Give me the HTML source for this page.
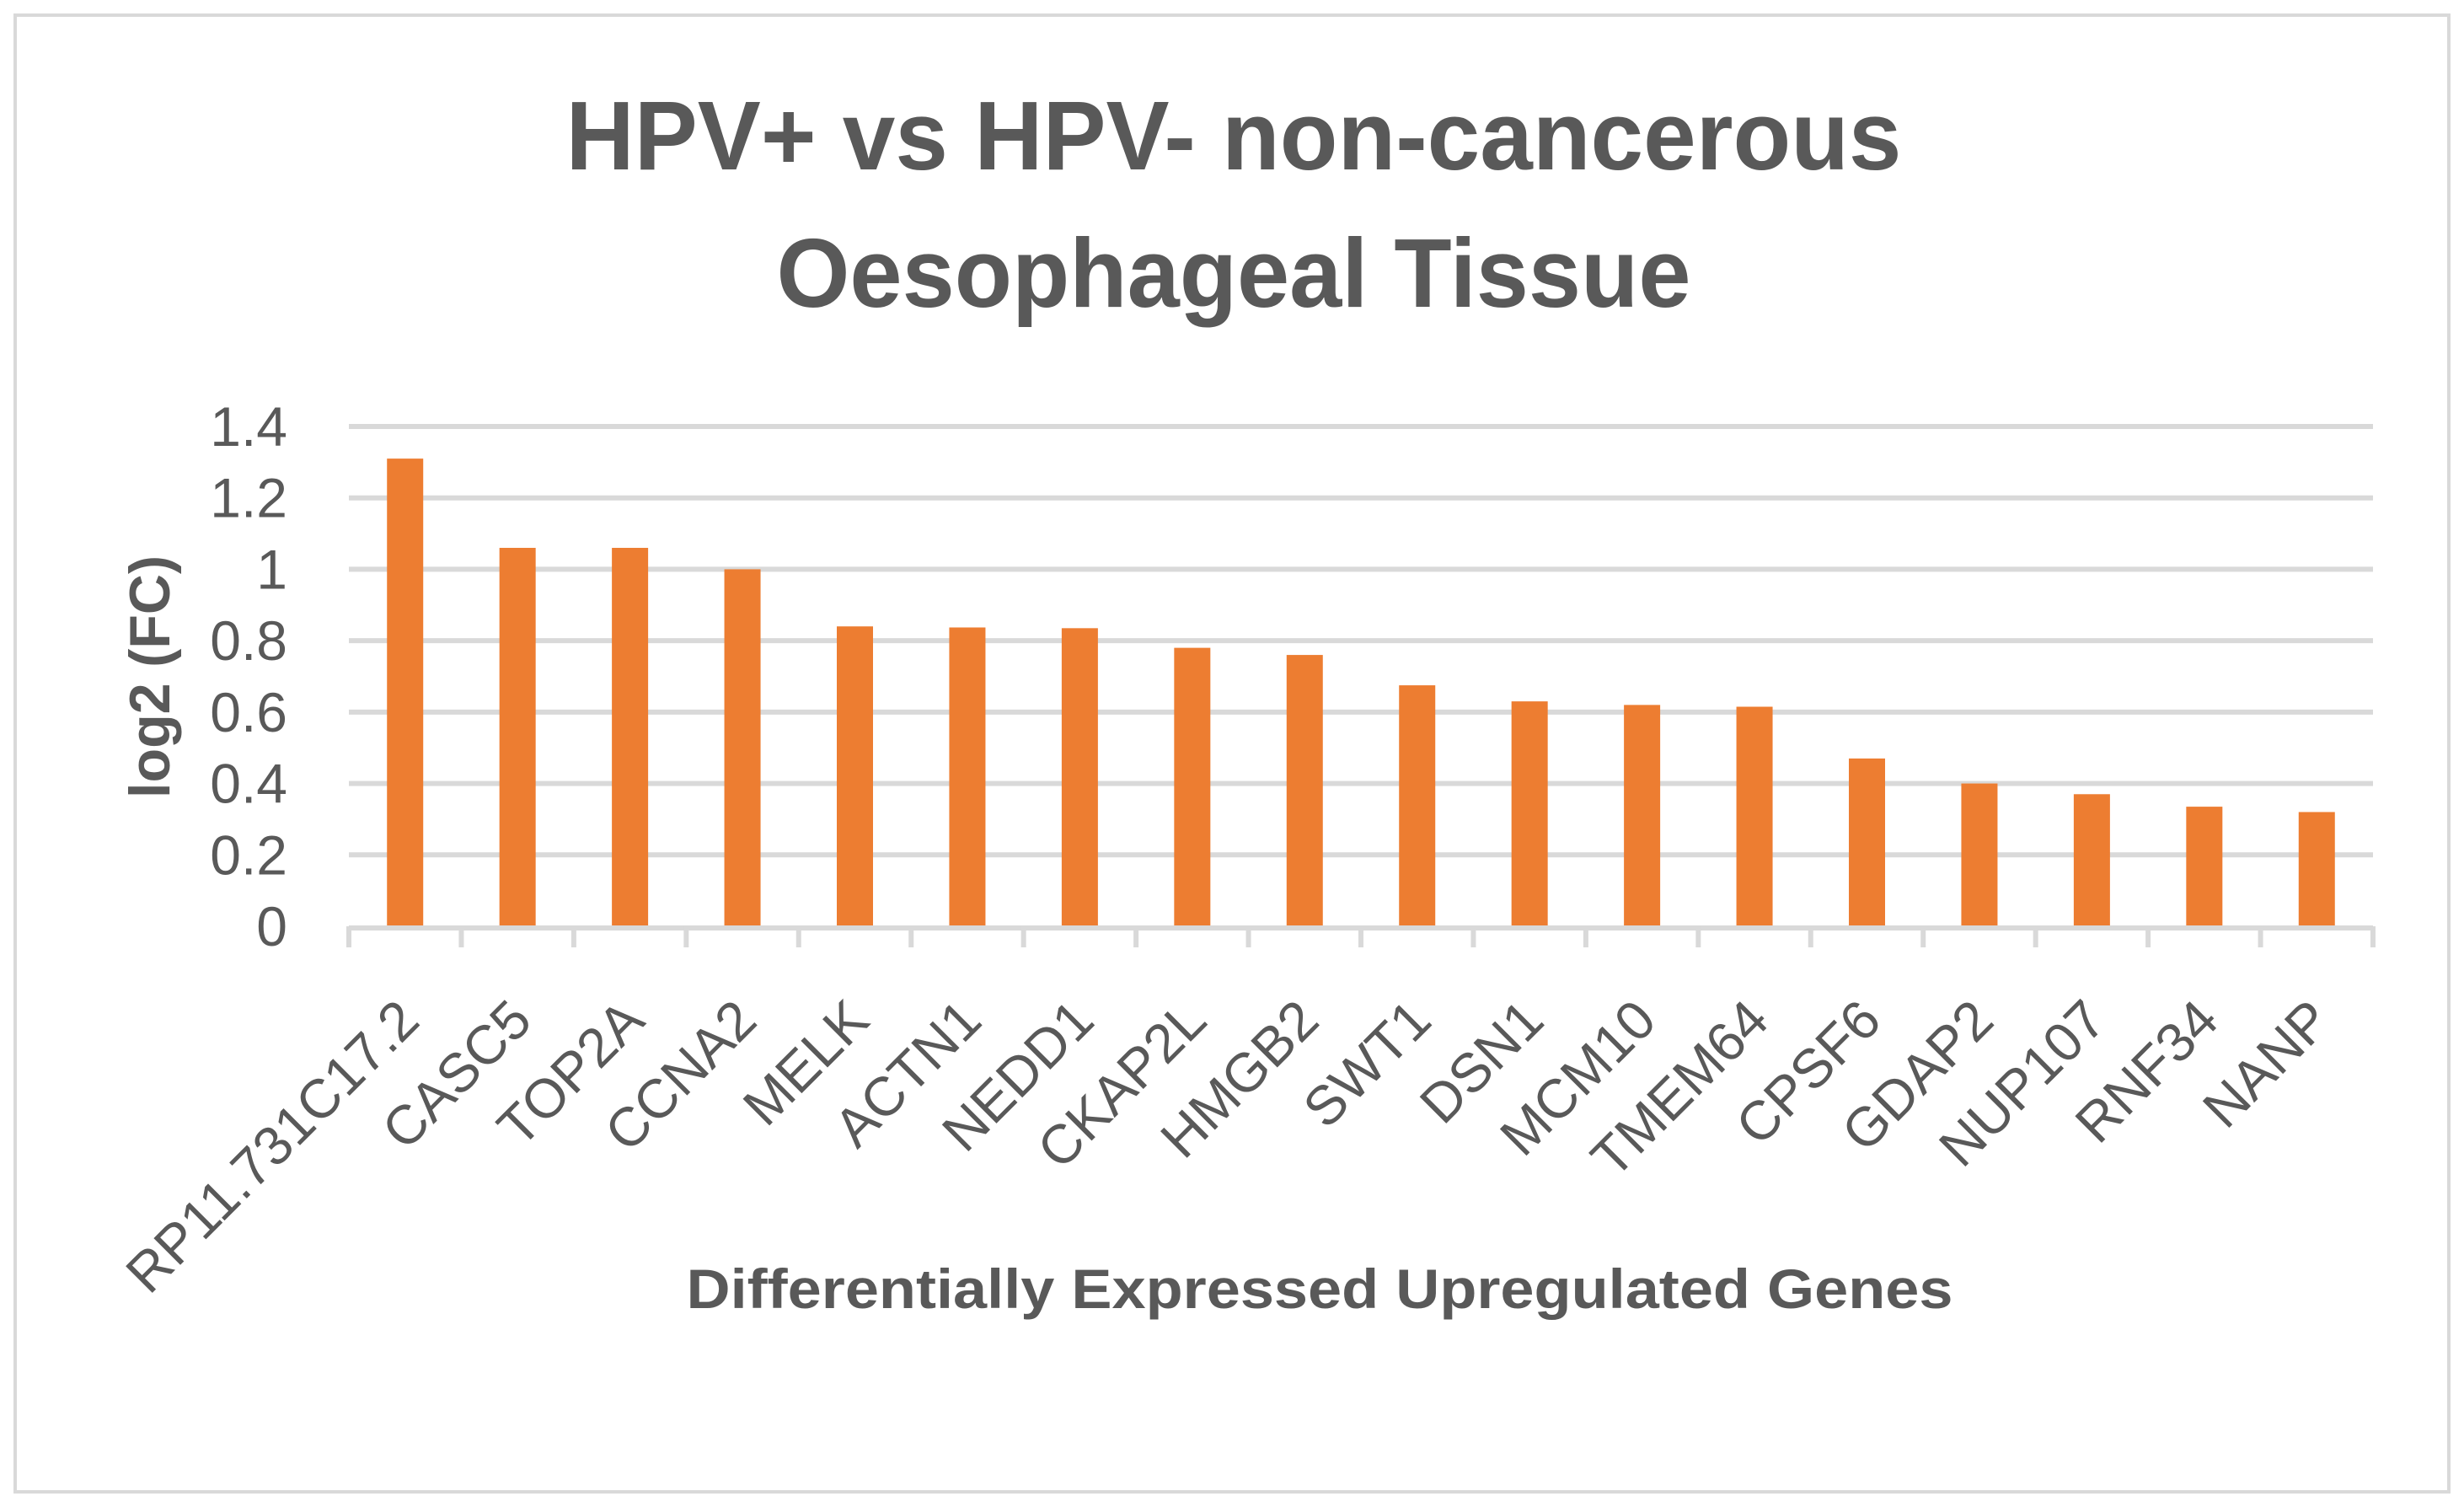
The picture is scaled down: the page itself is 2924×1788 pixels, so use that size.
<!DOCTYPE html>
<html><head><meta charset="utf-8"><style>
html,body{margin:0;padding:0;background:#fff}
svg{display:block}
text{font-family:"Liberation Sans",sans-serif;fill:#595959}
</style></head><body>
<svg id="chart" width="2924" height="1788" viewBox="0 0 2924 1788" xmlns="http://www.w3.org/2000/svg">
<rect x="18" y="18" width="2888" height="1752" fill="#fff" stroke="#d9d9d9" stroke-width="4"/>
<text x="1464" y="201" text-anchor="middle" font-size="116" font-weight="bold" textLength="1585" lengthAdjust="spacingAndGlyphs">HPV+ vs HPV- non-cancerous</text>
<text x="1464" y="364" text-anchor="middle" font-size="116" font-weight="bold" textLength="1085" lengthAdjust="spacingAndGlyphs">Oesophageal Tissue</text>
<g id="grid"></g><g id="bars"></g><g id="axis"></g><g id="ylabels"></g><g id="xlabels"></g>
<text transform="translate(201,803) rotate(-90)" text-anchor="middle" font-size="68" font-weight="bold" textLength="288" lengthAdjust="spacingAndGlyphs">log2 (FC)</text>
<text x="1566" y="1552" text-anchor="middle" font-size="66" font-weight="bold" textLength="1503" lengthAdjust="spacingAndGlyphs">Differentially Expressed Upregulated Genes</text>
</svg>
<script>
const categories = ["RP11.731C17.2","CASC5","TOP2A","CCNA2","MELK","ACTN1","NEDD1","CKAP2L","HMGB2","SWT1","DSN1","MCM10","TMEM64","CPSF6","GDAP2","NUP107","RNF34","NANP"];
const values = [1.31,1.06,1.06,1.0,0.84,0.837,0.835,0.78,0.76,0.675,0.63,0.62,0.615,0.47,0.40,0.37,0.335,0.32];
const yTicks = [0,0.2,0.4,0.6,0.8,1,1.2,1.4];
const yTickLabels = ["0","0.2","0.4","0.6","0.8","1","1.2","1.4"];

const NS = "http://www.w3.org/2000/svg";
const X0 = 414, X1 = 2816, Y0 = 1099, Y1 = 506, YMAX = 1.4;
const band = (X1 - X0) / categories.length;
function xScale(i){ return X0 + band * (i + 0.5); }
function yScale(v){ return Y0 - (v / YMAX) * (Y0 - Y1); }
function mk(tag, attrs, parent){
  const e = document.createElementNS(NS, tag);
  for (const k in attrs) e.setAttribute(k, attrs[k]);
  parent.appendChild(e); return e;
}
const grid = document.getElementById('grid');
const ylab = document.getElementById('ylabels');
yTicks.forEach((t, i) => {
  const y = yScale(t);
  if (t > 0) {
    const l = mk('line', {x1:X0, x2:X1, y1:y, y2:y, stroke:'#d9d9d9', 'stroke-width':6}, grid);
    
    
  }
  const tx = mk('text', {x:341, y:y + 23, 'text-anchor':'end', 'font-size':66}, ylab);
  tx.textContent = yTickLabels[i];
  
  
});
const bars = document.getElementById('bars');
const xl = document.getElementById('xlabels');
const bw = 43;
values.forEach((v, i) => {
  const cx = xScale(i);
  const r = mk('rect', {x:cx - bw/2, y:yScale(v), width:bw, height:Y0 - yScale(v), fill:'#ed7d31'}, bars);
  
  
  const ax = cx + 20, ay = 1214;
  const t = mk('text', {x:ax, y:ay, 'text-anchor':'end', 'font-size':65, transform:'rotate(-45 ' + ax + ' ' + ay + ')'}, xl);
  t.textContent = categories[i];
  
  
});
const axis = document.getElementById('axis');
const al = mk('line', {x1:X0, x2:X1, y1:Y0 + 2, y2:Y0 + 2, stroke:'#d9d9d9', 'stroke-width':6}, axis);


for (let i = 0; i <= categories.length; i++) {
  const x = X0 + band * i;
  const tk = mk('line', {x1:x, x2:x, y1:Y0, y2:Y0 + 25, stroke:'#d9d9d9', 'stroke-width':6}, axis);
  
  
}
</script>
</body></html>
